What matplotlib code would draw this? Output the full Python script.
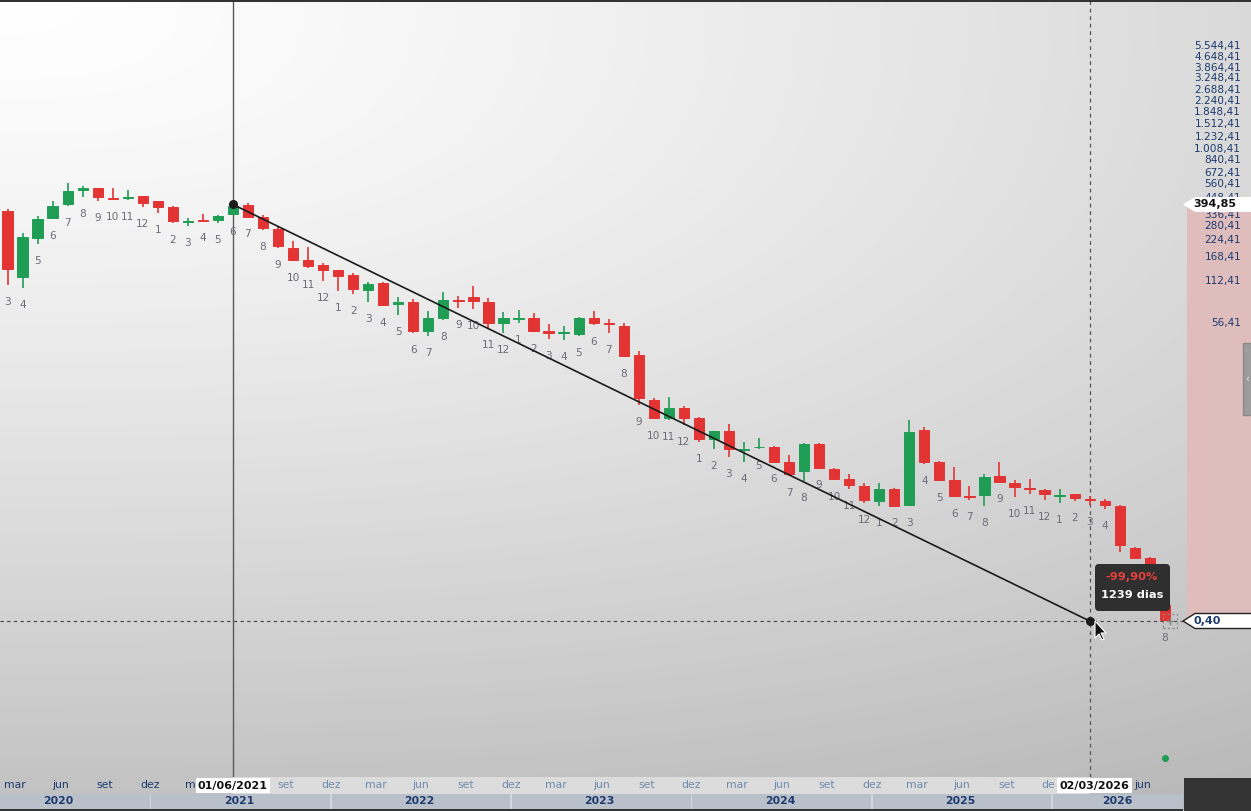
import numpy as np
import matplotlib
matplotlib.use("Agg")
import matplotlib.pyplot as plt
from matplotlib.patches import Rectangle, Polygon, FancyBboxPatch
from matplotlib.transforms import IdentityTransform
from matplotlib.ticker import NullLocator

plt.rcParams['font.family'] = ['DejaVu Sans']

# ---------------- data (monthly candles, Mar/2020 .. Aug/2026) ----------------
start_year, start_month = 2020, 3
opens = [352, 118.6, 225.7, 314, 395, 498, 515, 437, 441, 452,
         415, 376, 296, 303, 304, 335, 390, 323, 262, 193,
         157, 146, 133, 122.7, 95.7, 107, 76.5, 78, 48.5, 60.3,
         80.6, 85.5, 78, 55.2, 59.3, 60.3, 49, 47.2, 46.5, 60.3,
         55.6, 53, 32.9, 15.5, 11.5, 13.6, 11.6, 8.1, 9.3, 6.8,
         7.1, 7.15, 5.55, 4.8, 7.55, 4.98, 4.23, 3.75, 2.93, 3.58,
         2.73, 9.5, 5.55, 4.1, 3.17, 3.2, 4.4, 3.94, 3.63, 3.5,
         3.17, 3.25, 3.0, 2.93, 2.68, 1.35, 1.13, 0.52]
highs = [364, 245, 325, 415, 560, 532, 523, 515, 498, 455,
         420, 388, 314, 335, 330, 394.85, 402, 331, 270, 214,
         196, 149, 134, 126.8, 108.6, 110, 85.7, 82.5, 68, 93.5,
         87.5, 101.8, 84, 66.2, 68.8, 65.5, 54.6, 53, 61.6, 67.3,
         59.3, 55.2, 35, 16.1, 16.3, 14.1, 11.8, 9.3, 10.5, 7.7,
         8.3, 7.2, 6.2, 7.6, 7.6, 5.0, 4.55, 3.95, 3.9, 3.6,
         11.2, 9.9, 5.7, 5.1, 3.75, 4.55, 5.6, 4.15, 4.23, 3.58,
         3.58, 3.28, 3.16, 3.0, 2.73, 1.37, 1.16, 0.53]
lows = [104, 98.9, 204, 312, 382, 445, 415, 428, 422, 376,
        344, 293, 275, 298, 289, 333, 320, 259, 193, 156,
        139, 111, 94.6, 89, 78, 74, 63, 47.4, 44.5, 58,
        71, 69.9, 51, 47.4, 55.2, 48, 42.6, 42, 45, 53.9,
        47, 31.8, 14.2, 11.4, 11.2, 10.2, 7.7, 6.85, 6.0, 5.6,
        6.85, 5.55, 4.4, 4.05, 5.0, 4.15, 3.55, 2.8, 2.7, 2.68,
        2.68, 5.4, 4.08, 3.13, 2.95, 2.7, 3.98, 3.13, 3.25, 2.95,
        2.8, 2.9, 2.73, 2.55, 1.26, 1.13, 0.72, 0.40]
closes = [135, 229.5, 308.8, 382, 490, 515, 445, 430, 445, 408,
          376, 298, 301, 300, 325, 388, 321, 266, 197, 157,
          143, 133, 120, 97.3, 105.6, 74.5, 78, 48.5, 60.3, 81.2,
          80, 79.6, 55.2, 60.3, 60, 48.5, 47, 47.6, 60.3, 55.2,
          54.8, 32.4, 16, 11.5, 13.6, 11.6, 8.1, 9.25, 6.85, 6.87,
          7.15, 5.6, 4.55, 7.55, 5.05, 4.2, 3.8, 2.95, 3.58, 2.7,
          9.2, 5.6, 4.1, 3.15, 3.14, 4.33, 4.0, 3.69, 3.55, 3.25,
          3.2, 3.05, 2.98, 2.73, 1.41, 1.14, 0.75, 0.41]

extra_dot_price = 0.0414          # small green marker below last candle

price_ticks = [5544.41, 4648.41, 3864.41, 3248.41, 2688.41, 2240.41, 1848.41,
               1512.41, 1232.41, 1008.41, 840.41, 672.41, 560.41, 448.41,
               336.41, 280.41, 224.41, 168.41, 112.41, 56.41]

month_abbr = {3: 'mar', 6: 'jun', 9: 'set', 12: 'dez'}
year_names = ['2020', '2021', '2022', '2023', '2024', '2025', '2026']
# axis month labels partly covered by the date boxes (visible fragment only)
partial_month_labels = {12: 'm', 69: 'de'}
hidden_month_labels = [15, 72]
# candle number labels covered by the tooltip
hidden_candle_labels = [74, 75, 76]

measure_start_idx, measure_end_idx = 15, 72
measure_start_price, measure_end_price = 394.85, 0.40
measure_start_label, measure_end_label = '01/06/2021', '02/03/2026'
measure_pct, measure_days = '-99,90%', '1239 dias'
# -----------------------------------------------------------------------------

n = len(opens)
idx = np.arange(n)
months = [((start_month - 1 + i) % 12) + 1 for i in range(n)]
years = [start_year + (start_month - 1 + i) // 12 for i in range(n)]

W, H, DPI = 1251, 811, 100
fig = plt.figure(figsize=(W / DPI, H / DPI), dpi=DPI)

def P(x, y):            # top-left pixel -> display coords
    return (x, H - y)

# background gradient
bgax = fig.add_axes([0, 0, 1, 1], zorder=-10)
yy, xx = np.mgrid[0:H, 0:W]
xn = xx / 1183.0
yn = yy / 777.0
val = 255 - np.sqrt((35 * xn ** 1.3) ** 2 + (59 * yn ** 1.3) ** 2)
val = np.clip(val, 0, 255) / 255.0
bgax.imshow(np.dstack([val, val, val]), aspect='auto', extent=[0, W, H, 0])
bgax.set_xlim(0, W); bgax.set_ylim(H, 0); bgax.axis('off')

# main axes
PLOT_R, PLOT_B = 1183, 777
ax = fig.add_axes([0, 1 - PLOT_B / H, PLOT_R / W, PLOT_B / H], zorder=0)
ax.patch.set_alpha(0)
spacing = 15.03
x0 = 7.5
ax.set_xlim(-x0 / spacing, (PLOT_R - x0) / spacing)
ax.set_yscale('log')
pxdec = 139.1
anchor_y = 621
ylims = (0.40 * 10 ** (-(PLOT_B - anchor_y) / pxdec), 0.40 * 10 ** (anchor_y / pxdec))
ax.set_ylim(*ylims)
for s in ax.spines.values():
    s.set_visible(False)
ax.set_xticks([])
ax.yaxis.tick_right()
ax.yaxis.set_minor_locator(NullLocator())

def br(v):
    s = f"{v:,.2f}"
    return s.replace(',', 'X').replace('.', ',').replace('X', '.')

ax.set_yticks(price_ticks)
ax.set_yticklabels([br(v) for v in price_ticks])
ax.tick_params(axis='y', length=0, pad=(1241 - PLOT_R) * 0.72, labelsize=7.6,
               labelcolor='#1d3b6f')
for lab in ax.get_yticklabels():
    lab.set_horizontalalignment('right')
ax.set_ylim(*ylims)

RED, GREEN = '#e33434', '#1f9d55'
cols = [GREEN if c >= o else RED for o, c in zip(opens, closes)]
ax.vlines(idx, lows, highs, colors=cols, lw=1.2, zorder=3)
bot = np.minimum(opens, closes)
top = np.maximum(opens, closes)
ax.bar(idx, top - bot, bottom=bot, width=0.68, color=cols, edgecolor=cols,
       linewidth=0.7, zorder=4)

for i in range(n):
    if i in hidden_candle_labels:
        continue
    ax.annotate(str(months[i]), (idx[i], lows[i]), xytext=(0, -17),
                textcoords='offset pixels', ha='center', va='center',
                fontsize=7.6, color='#6c6c78', zorder=3)

ax.plot([idx[-1]], [extra_dot_price], 'o', color=GREEN, ms=4, zorder=4)

# guide lines
ax.axvline(measure_start_idx, color='#5a5a5a', lw=1, zorder=2)
ax.axvline(measure_end_idx, color='#555555', lw=0.9, ls=(0, (3, 3)), zorder=2)
ax.axhline(measure_end_price, color='#444444', lw=0.8, ls=(0, (3, 3)), zorder=2)
ax.plot([measure_start_idx, measure_end_idx], [measure_start_price, measure_end_price],
        color='#1a1a1a', lw=1.2, zorder=5)
ax.plot([measure_start_idx, measure_end_idx], [measure_start_price, measure_end_price],
        'o', color='#1a1a1a', ms=5.5, zorder=6)

# bottom bands
bax = fig.add_axes([0, 0, PLOT_R / W, (H - PLOT_B) / H], zorder=1)
bax.set_xlim(ax.get_xlim()); bax.set_ylim(0, H - PLOT_B)
bax.axis('off')
bax.add_patch(Rectangle((measure_start_idx, 17), measure_end_idx - measure_start_idx, 17,
                        fc='#dcdcdc', ec='none'))
bax.add_patch(Rectangle((-5, 0), 100, 17, fc='#b9c0ca', ec='none'))
bax.add_patch(Rectangle((-5, 0), 100, 2.5, fc='#333333', ec='none'))
for i in range(n):
    if months[i] == 1:
        bax.add_patch(Rectangle((i - 0.55, 2.5), 0.12, 14.5, fc='#d3d7dd', ec='none'))
    if months[i] in month_abbr and i not in hidden_month_labels:
        inside = measure_start_idx <= i <= measure_end_idx
        txt = partial_month_labels.get(i, month_abbr[months[i]])
        xpos = i + 0.5
        ha = 'center'
        if i in partial_month_labels:
            xpos = i - 0.22
            ha = 'left'
        bax.text(xpos, 25.5, txt, ha=ha, va='center',
                 fontsize=7.8, color='#6d8cae' if inside else '#1d3b6f')
yr_pos = {}
for i in range(n):
    yr_pos.setdefault(years[i], []).append(i)
for k, yname in enumerate(year_names):
    ii = yr_pos[int(yname)]
    if len(ii) == 12 or k == 0:
        xc = ii[0] - (12 - len(ii)) + 5.4
    else:
        xc = (ii[0] - 0.5 + (PLOT_R - x0) / spacing) / 2
    bax.text(xc, 9.5, yname, ha='center', va='center', fontsize=7.8,
             fontweight='bold', color='#1d3b6f')
for xi, lab in [(measure_start_idx, measure_start_label), (measure_end_idx + 0.3, measure_end_label)]:
    bax.text(xi, 25.5, lab, ha='center', va='center', fontsize=8, fontweight='bold',
             color='#111111', zorder=5,
             bbox=dict(boxstyle='square,pad=0.22', fc='white', ec='none'))

# figure decorations
idt = IdentityTransform()
fig.add_artist(Rectangle(P(0, 2), W, 2, transform=idt, fc='#333333', ec='none', zorder=20))
fig.add_artist(Rectangle(P(1184, 811), W - 1184, 811 - 778, transform=idt,
                         fc='#333333', ec='none', zorder=20))

y_hi = ax.transData.transform((0, measure_start_price))[1]
y_lo = ax.transData.transform((0, measure_end_price))[1]
fig.add_artist(Rectangle((1187, y_lo), W - 1187, y_hi - y_lo, transform=idt,
                         fc='#dfbdbd', ec='none', zorder=-5))

def tag(yd, text, color, edge):
    pts = [(1183, yd), (1195, yd + 7.5), (W + 2, yd + 7.5), (W + 2, yd - 7.5), (1195, yd - 7.5)]
    fig.add_artist(Polygon(pts, closed=True, transform=idt, fc='white',
                           ec=edge if edge else 'none', lw=1, zorder=21))
    fig.text(1193 / W, yd / H, text, ha='left', va='center', fontsize=8,
             fontweight='bold', color=color, zorder=22)

tag(y_hi, br(measure_start_price), '#111111', None)
tag(y_lo, br(measure_end_price), '#1d3b6f', '#222222')

# side handle
fig.add_artist(Rectangle(P(1243, 415), 9, 72, transform=idt, fc='#9c9c9c', ec='#8a8a8a',
                         zorder=20))
fig.text(1247.5 / W, 1 - 379 / H, '‹', ha='center', va='center', fontsize=7,
         color='#e8e8e8', zorder=21)

# tooltip
fig.add_artist(FancyBboxPatch(P(1095, 611), 75, 47, transform=idt,
                              boxstyle='round,pad=0,rounding_size=4',
                              fc='#2f2f2f', ec='none', zorder=23))
fig.text(1132 / W, 1 - 577 / H, measure_pct, ha='center', va='center', fontsize=8.2,
         fontweight='bold', color='#e5413f', zorder=24)
fig.text(1132 / W, 1 - 595 / H, measure_days, ha='center', va='center', fontsize=8.2,
         fontweight='bold', color='white', zorder=24)

# crosshair cursor near the last candle
cx = 1170
fig.add_artist(Rectangle((cx - 7, y_lo - 7), 14, 14, transform=idt, fc='none',
                         ec='#888888', lw=0.8, ls=(0, (2, 2)), zorder=22))
fig.add_artist(Polygon([(cx - 4, y_lo), (cx + 4, y_lo)], closed=False, transform=idt,
                       fill=False, ec='#888888', lw=1, zorder=22))
fig.add_artist(Polygon([(cx, y_lo - 4), (cx, y_lo + 4)], closed=False, transform=idt,
                       fill=False, ec='#888888', lw=1, zorder=22))

# mouse pointer
tipx, tipy = 1095, y_lo
ptr = [(0, 0), (0, -17), (4, -13), (7, -19), (9, -18), (6, -12), (11, -12)]
fig.add_artist(Polygon([(tipx + a, tipy + b) for a, b in ptr], closed=True, transform=idt,
                       fc='#111111', ec='white', lw=0.8, zorder=25))

fig.savefig('out.png', dpi=DPI)
